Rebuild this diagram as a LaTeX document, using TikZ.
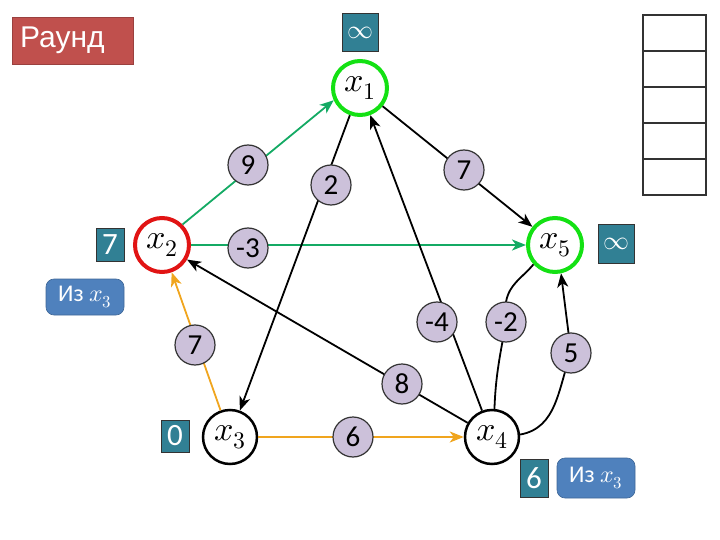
\documentclass[tikz,border=0pt]{standalone}
\usepackage{fontspec}
\usepackage{unicode-math}
\setmathfont{Latin Modern Math}
\setmainfont{Carlito}
\newfontfamily\arialf{Liberation Sans}
\usetikzlibrary{arrows.meta}
\definecolor{gedge}{RGB}{20,170,100}
\definecolor{oedge}{RGB}{240,165,30}
\definecolor{tealbox}{RGB}{49,128,148}
\definecolor{bluebox}{RGB}{79,129,189}
\definecolor{redbox}{RGB}{192,80,77}
\definecolor{wfill}{RGB}{204,193,218}
\definecolor{gnode}{RGB}{20,225,20}
\definecolor{rnode}{RGB}{225,20,20}
\tikzset{
  vert/.style={circle,draw=black,line width=2.5pt,fill=white,minimum size=54pt,inner sep=0pt,font=\fontsize{34}{36}\selectfont},
  wt/.style={circle,draw=black!80,line width=1.2pt,fill=wfill,minimum size=40pt,inner sep=0pt,font=\fontsize{29}{30}\selectfont},
  val/.style={draw=black!80,line width=1pt,fill=tealbox,text=white,inner sep=0pt,font=\fontsize{31}{32}\selectfont},
  fromb/.style={rounded corners=8pt,fill=bluebox,draw=bluebox!80!black,line width=0.6pt,text=white,minimum width=78pt,minimum height=36pt,inner sep=0pt,font=\fontsize{24}{26}\selectfont},
  edge/.style={line width=1.8pt,-{Stealth[length=14pt,width=11pt,inset=4pt]}},
  pl/.style={line width=1.8pt}
}
\begin{document}
\begin{tikzpicture}[x=1pt,y=-1pt]
\useasboundingbox (0,0) rectangle (720,540);
% title
\node[fill=redbox,draw=redbox!80!black,minimum width=121pt,minimum height=47pt,inner ysep=0pt,inner xsep=8pt,text=white,font=\arialf\fontsize{30}{32}\selectfont,anchor=north west,text width=105pt,align=left] (title) at (12,17) {Раунд};
% table
\foreach \i in {0,...,4}{
  \draw[line width=1.3pt,draw=black!80] (643,15+36*\i) rectangle (706,51+36*\i);
}
% vertices
\node[vert,draw=gnode,line width=4pt] (x1) at (360,88) {$x_1$};
\node[vert,draw=rnode,line width=4pt] (x2) at (162,245) {$x_2$};
\node[vert] (x3) at (230,437) {$x_3$};
\node[vert] (x4) at (492,437) {$x_4$};
\node[vert,draw=gnode,line width=4pt] (x5) at (555,245) {$x_5$};
% edges
\draw[edge,draw=gedge] (x2.45) -- (x1.205);
\draw[edge,draw=gedge] (x2) -- (x5);
\draw[edge] (x1) -- (x3);
\draw[edge] (x1) -- (x5);
\draw[edge] (x4) -- (x1);
\draw[edge] (x4) -- (x2);
\draw[pl] (x5.222) to[out=230,in=80] (506,302);
\draw[pl] (506,322) to[out=-100,in=88] (x4.85);
\draw[pl] (x4.5) to[out=10,in=-110] (571,353);
\draw[edge] (571,353) -- (x5.-78);
\draw[edge,draw=oedge] (x3) -- (x2);
\draw[edge,draw=oedge] (x3) -- (x4);
% weights
\node[wt] (w9) at (248,165) {9};
\node[wt] (w2) at (331,185) {2};
\node[wt] (w7a) at (464,170) {7};
\node[wt] (wm3) at (248,248) {-3};
\node[wt] (wm4) at (437,322) {-4};
\node[wt] (wm2) at (506,322) {-2};
\node[wt] (w5) at (571,353) {5};
\node[wt] (w8) at (402,384) {8};
\node[wt] (w7b) at (195,345) {7};
\node[wt] (w6) at (353,437) {6};
% value boxes
\node[val,minimum width=36pt,minimum height=38pt,font=\fontsize{26}{28}\selectfont] (v1) at (360,33) {$\infty$};
\node[val,minimum width=28pt,minimum height=32pt] (v2) at (110,245) {7};
\node[val,minimum width=36pt,minimum height=38pt,font=\fontsize{26}{28}\selectfont] (v5) at (616,244) {$\infty$};
\node[val,minimum width=28pt,minimum height=32pt] (v3) at (175,436) {0};
\node[val,minimum width=28pt,minimum height=38pt] (v4) at (534,478) {6};
\node[fromb] (f2) at (85,297) {Из $x_3$};
\node[fromb,minimum height=40pt] (f4) at (596,478) {Из $x_3$};
\end{tikzpicture}
\end{document}
